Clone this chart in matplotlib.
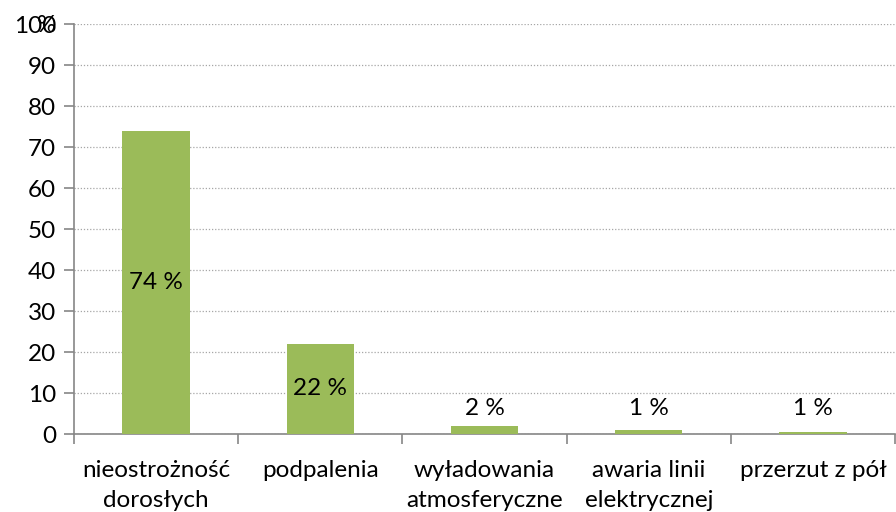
import matplotlib
matplotlib.use("Agg")
import matplotlib.pyplot as plt
import numpy as np

categories = ["nieostrożność\ndorosłych", "podpalenia", "wyładowania\natmosferyczne",
              "awaria linii\nelektrycznej", "przerzut z pół"]
values = [74, 22, 2, 1, 0.5]
value_labels = ["74 %", "22 %", "2 %", "1 %", "1 %"]
yticks = list(range(0, 101, 10))

plt.rcParams['font.family'] = ['Lato', 'DejaVu Sans']
FS = 17.5

fig = plt.figure(figsize=(8.96, 5.12), dpi=100)
ax = fig.add_axes([0.0826, 0.1523, 0.9164, 0.8008])

x = np.arange(len(categories))
bars = ax.bar(x, values, width=0.41, color="#9BBB59", zorder=3)

for xi, v, lab in zip(x, values, value_labels):
    if v > 10:
        ax.text(xi, v / 2, lab, ha="center", va="center", fontsize=FS, color="black", zorder=4)
    else:
        ax.text(xi, 6.3, lab, ha="center", va="center", fontsize=FS, color="black", zorder=4)

ax.set_xlim(-0.5, len(categories) - 0.5)
ax.set_ylim(0, 100)
ax.set_yticks(yticks)
ax.set_yticklabels([str(t) for t in yticks], fontsize=FS)
ax.yaxis.grid(True, linestyle=(0, (1, 1.5)), color="#A6A6A6", linewidth=0.9, zorder=0)

ax.set_xticks(x)
ax.set_xticklabels(categories, fontsize=FS, linespacing=1.5)
ax.set_xticks(np.arange(-0.5, len(categories) + 0.5, 1), minor=True)
ax.tick_params(axis="x", which="major", length=0, pad=19)
ax.tick_params(axis="x", which="minor", length=7, color="#868686", width=1.2)
ax.tick_params(axis="y", length=7, color="#868686", width=1.2, pad=6)

for s in ["top", "right"]:
    ax.spines[s].set_visible(False)
for s in ["left", "bottom"]:
    ax.spines[s].set_color("#868686")
    ax.spines[s].set_linewidth(1.2)

fig.text(37 / 896, 1 - 26 / 512, "%", fontsize=FS, ha="left", va="center")

fig.savefig("out.png", dpi=100)
